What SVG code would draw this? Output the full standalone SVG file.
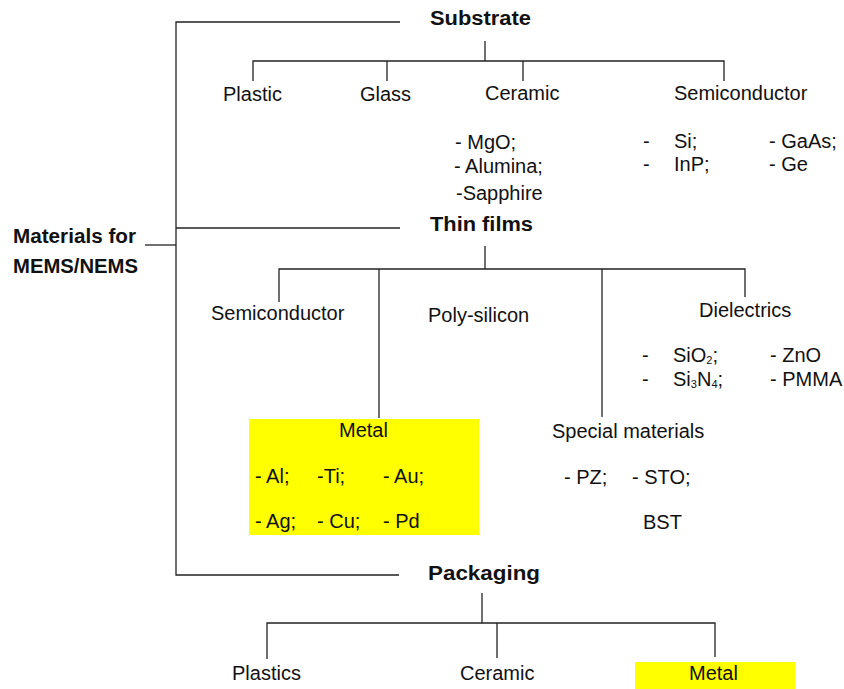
<svg xmlns="http://www.w3.org/2000/svg" width="844" height="689" viewBox="0 0 844 689">
<style>
text{font-family:"Liberation Sans",Arial,sans-serif;font-size:20px;fill:#111}
.b{font-weight:bold}
.sub{font-size:11px}
.hl{fill:#ffff00}
#connectors path{fill:none;stroke:#222;stroke-width:1.3}
</style>
<rect width="844" height="689" fill="#fff"/>
<g id="connectors">
<path d="M400,22 H176 V575 H399"/>
<path d="M176,228 H400"/>
<path d="M145,245 H176"/>
<path d="M485,41 V61"/>
<path d="M253,81 V61 H724 V81"/>
<path d="M387,61 V81"/>
<path d="M523,61 V81"/>
<path d="M485,246 V269"/>
<path d="M279,302 V269 H745 V297"/>
<path d="M379,269 V418"/>
<path d="M602,269 V417"/>
<path d="M482,593 V623"/>
<path d="M267,659 V623 H715 V657"/>
<path d="M497,623 V658"/>
</g>
<g id="root"><text class="b" x="13" y="243" font-size="19" textLength="123" lengthAdjust="spacingAndGlyphs">Materials for</text><text class="b" x="13" y="273" font-size="19" textLength="125" lengthAdjust="spacingAndGlyphs">MEMS/NEMS</text></g>
<g id="substrate"><text class="b" x="430" y="25" textLength="101" lengthAdjust="spacingAndGlyphs">Substrate</text></g>
<g id="sub-plastic"><text x="223" y="101">Plastic</text></g>
<g id="sub-glass"><text x="360" y="101">Glass</text></g>
<g id="sub-ceramic"><text x="485" y="100">Ceramic</text><text x="455" y="149">- MgO;</text><text x="454" y="173">- Alumina;</text><text x="456" y="200">-Sapphire</text></g>
<g id="sub-semiconductor"><text x="674" y="100">Semiconductor</text><text x="643" y="148">-</text><text x="674" y="148">Si;</text><text x="769" y="148">- GaAs;</text><text x="643" y="171">-</text><text x="674" y="171">InP;</text><text x="769" y="171">- Ge</text></g>
<g id="thinfilms"><text class="b" x="430" y="231" textLength="103" lengthAdjust="spacingAndGlyphs">Thin films</text></g>
<g id="tf-semiconductor"><text x="211" y="320">Semiconductor</text></g>
<g id="tf-polysilicon"><text x="428" y="322">Poly-silicon</text></g>
<g id="tf-dielectrics"><text x="699" y="317">Dielectrics</text><text x="642" y="362">-</text><text x="673" y="362">SiO<tspan class="sub" dy="2">2</tspan><tspan dy="-2">;</tspan></text><text x="770" y="362">- ZnO</text><text x="642" y="386">-</text><text x="673" y="386">Si<tspan class="sub" dy="2">3</tspan><tspan dy="-2">N</tspan><tspan class="sub" dy="2">4</tspan><tspan dy="-2">;</tspan></text><text x="770" y="386">- PMMA</text></g>
<g id="tf-metal"><rect class="hl" x="249" y="419" width="230" height="116"/><text x="339" y="437">Metal</text><text x="255" y="483">- Al;</text><text x="317" y="483">-Ti;</text><text x="383" y="483">- Au;</text><text x="255" y="528">- Ag;</text><text x="317" y="528">- Cu;</text><text x="383" y="528">- Pd</text></g>
<g id="tf-special"><text x="552" y="438">Special materials</text><text x="564" y="484">- PZ;</text><text x="632" y="484">- STO;</text><text x="643" y="529">BST</text></g>
<g id="packaging"><text class="b" x="428" y="580" textLength="112" lengthAdjust="spacingAndGlyphs">Packaging</text></g>
<g id="pk-plastics"><text x="232" y="680">Plastics</text></g>
<g id="pk-ceramic"><text x="460" y="680">Ceramic</text></g>
<g id="pk-metal"><rect class="hl" x="635" y="662" width="160" height="27"/><text x="689" y="680">Metal</text></g>
</svg>
